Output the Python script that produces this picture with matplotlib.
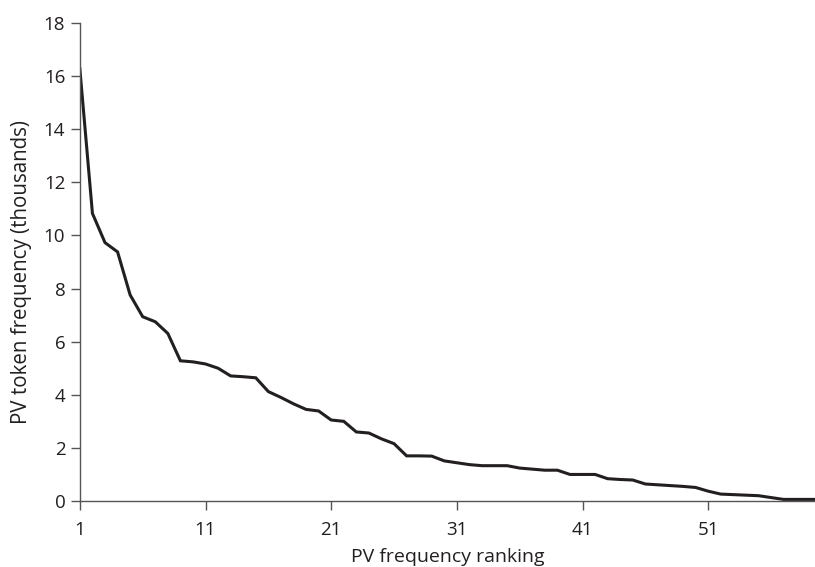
import matplotlib
matplotlib.use("Agg")
import matplotlib.pyplot as plt

plt.rcParams['font.family'] = ['Open Sans', 'DejaVu Sans']

# PV token frequency (thousands) by frequency ranking
rank = list(range(1, 61))
freq = [16.27, 10.83, 9.73, 9.38, 7.76, 6.94, 6.75, 6.31, 5.28, 5.24,
        5.16, 5.00, 4.71, 4.68, 4.64, 4.12, 3.90, 3.66, 3.45, 3.39,
        3.05, 3.00, 2.60, 2.56, 2.34, 2.16, 1.70, 1.70, 1.69, 1.51,
        1.44, 1.37, 1.33, 1.33, 1.33, 1.24, 1.20, 1.16, 1.16, 1.00,
        1.00, 1.00, 0.84, 0.81, 0.79, 0.64, 0.61, 0.58, 0.55, 0.51,
        0.37, 0.26, 0.24, 0.22, 0.20, 0.13, 0.06, 0.06, 0.06, 0.06]

xticks = [1, 11, 21, 31, 41, 51]
yticks = list(range(0, 19, 2))

fig = plt.figure(figsize=(8.15, 5.67), dpi=100)
ax = fig.add_axes([0.098, 0.1164, 0.902, 0.843])

ax.plot(rank, freq, color='#231f20', lw=2.2, solid_joinstyle='miter')

ax.set_xlim(1, 59.5)
ax.set_ylim(0, 18)
ax.set_xticks(xticks)
ax.set_yticks(yticks)

for s in ['top', 'right']:
    ax.spines[s].set_visible(False)
for s in ['left', 'bottom']:
    ax.spines[s].set_color('#555555')
    ax.spines[s].set_linewidth(1.0)

ax.tick_params(axis='both', length=6.5, width=1.0, color='#555555',
               labelsize=13.5, labelcolor='#231f20')
ax.tick_params(axis='x', pad=8)
ax.tick_params(axis='y', pad=4)

ax.set_xlabel('PV frequency ranking', fontsize=14, color='#231f20')
ax.set_ylabel('PV token frequency (thousands)', fontsize=14.8, color='#231f20')
ax.xaxis.set_label_coords(0.5, -0.098)
ax.yaxis.set_label_coords(-0.079, 0.479)
ax.yaxis.label.set_va('center')

fig.savefig('out.png', dpi=100)
